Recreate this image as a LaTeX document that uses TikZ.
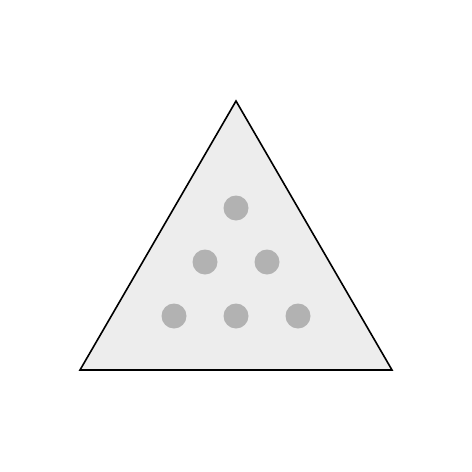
\documentclass[tikz,border=0pt]{standalone}
\begin{document}
\begin{tikzpicture}[x=1pt,y=-1pt,
  tri/.style={draw=black,line width=1.6pt,fill=black!7,line join=miter},
  dot/.style={fill=black!30,draw=none}]
\useasboundingbox (0,0) rectangle (472,472);
\fill[white] (0,0) rectangle (472,472);
\draw[tri] (236,101) -- (392,370) -- (80,370) -- cycle;
\foreach \x/\y in {236/208,205/262,267/262,174/316,236/316,298/316}
  \fill[dot] (\x,\y) circle (12.5);
\end{tikzpicture}
\end{document}
